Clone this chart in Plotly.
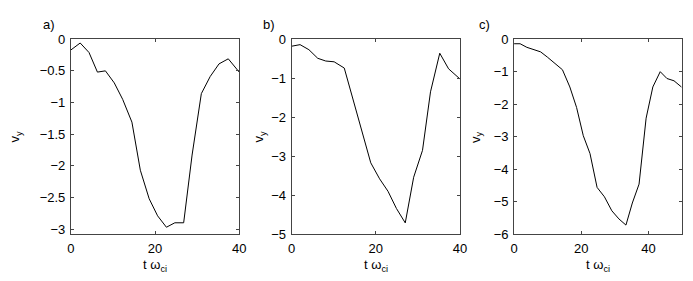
import plotly.graph_objects as go

# Panel a
t_a = [0, 2.2, 4.3, 6.3, 8.2, 10.3, 12.3, 14.5, 16.5, 18.6, 20.6, 22.7, 24.7, 26.8, 28.8, 31.0, 33.1, 35.2, 37.4, 40.0]
v_a = [-0.17, -0.06, -0.21, -0.52, -0.50, -0.69, -0.95, -1.31, -2.07, -2.52, -2.79, -2.97, -2.90, -2.90, -1.83, -0.86, -0.59, -0.39, -0.31, -0.52]

# Panel b
t_b = [0, 2.0, 4.1, 6.2, 8.1, 10.1, 12.5, 14.6, 16.7, 18.8, 20.9, 22.9, 24.9, 27.0, 29.0, 31.1, 33.0, 35.2, 37.3, 40.0]
v_b = [-0.18, -0.14, -0.27, -0.49, -0.56, -0.58, -0.74, -1.55, -2.36, -3.17, -3.58, -3.90, -4.34, -4.71, -3.54, -2.85, -1.35, -0.36, -0.76, -1.02]

# Panel c
t_c = [0, 1.8, 3.8, 5.9, 7.9, 9.9, 12.2, 14.4, 16.6, 18.6, 20.6, 22.6, 24.7, 26.9, 29.1, 31.2, 33.3, 35.2, 37.2, 39.3, 41.3, 43.5, 45.5, 47.6, 49.8]
v_c = [-0.14, -0.14, -0.25, -0.31, -0.39, -0.55, -0.74, -0.94, -1.47, -2.10, -2.97, -3.52, -4.56, -4.85, -5.28, -5.53, -5.72, -5.04, -4.46, -2.43, -1.47, -1.00, -1.21, -1.28, -1.47]

panel_labels = ["a)", "b)", "c)"]
x_ranges = [[0, 40], [0, 40], [0, 50]]
x_ticks = [[0, 20, 40], [0, 20, 40], [0, 20, 40]]
y_ranges = [[-3.08, 0], [-5, 0], [-6, 0]]
y_ticks = [[0, -0.5, -1, -1.5, -2, -2.5, -3], [0, -1, -2, -3, -4, -5], [0, -1, -2, -3, -4, -5, -6]]
x_title = "t ω<sub>ci</sub>"
y_title = "v<sub>y</sub>"

W, H = 693, 281
x_doms = [[68 / W, 239 / W], [292.3 / W, 463.3 / W], [518.3 / W, 689 / W]]
y_dom = [1 - 240 / H, 1 - 34 / H]
label_x = [38, 261, 481]
label_y = [18, 18, 18]
ytitle_x = [12, 260, 480]

fig = go.Figure()
series = [(t_a, v_a), (t_b, v_b), (t_c, v_c)]
font = dict(family="Liberation Sans, Arial, sans-serif", size=13, color="black")
annotations = []
for i, (t, v) in enumerate(series):
    sx = "" if i == 0 else str(i + 1)
    fig.add_trace(go.Scatter(x=t, y=v, mode="lines", line=dict(color="black", width=1),
                             xaxis="x" + sx, yaxis="y" + sx, showlegend=False, hoverinfo="skip"))
    common = dict(showline=True, mirror="ticks", linecolor="#444", linewidth=1,
                  ticks="inside", ticklen=3, tickcolor="#444", showgrid=False,
                  zeroline=False, tickfont=font)
    fig.update_layout(**{
        "xaxis" + sx: dict(domain=x_doms[i], range=x_ranges[i], tickvals=x_ticks[i],
                           anchor="y" + sx, ticklabelstandoff=2, **common),
        "yaxis" + sx: dict(domain=y_dom, range=y_ranges[i], tickvals=y_ticks[i],
                           anchor="x" + sx, ticklabelstandoff=2, **common),
    })
    xc = (x_doms[i][0] + x_doms[i][1]) / 2
    annotations.append(dict(text=x_title, x=xc, y=1 - 262 / H, xref="paper", yref="paper",
                            xanchor="center", yanchor="top", showarrow=False, font=font))
    annotations.append(dict(text=y_title, x=ytitle_x[i] / W, y=1 - 137 / H, xref="paper", yref="paper",
                            xanchor="center", yanchor="middle", showarrow=False, font=font,
                            textangle=-90))
    annotations.append(dict(text=panel_labels[i], x=label_x[i] / W, y=1 - label_y[i] / H,
                            xref="paper", yref="paper", xanchor="left", yanchor="middle",
                            showarrow=False, font=font))

fig.update_layout(width=W, height=H, margin=dict(l=0, r=0, t=0, b=0),
                  paper_bgcolor="white", plot_bgcolor="white", annotations=annotations,
                  font=font)
fig.write_html("out.html", config={"displayModeBar": False},
               post_script="document.body.style.margin='0';document.body.style.overflow='hidden';")
